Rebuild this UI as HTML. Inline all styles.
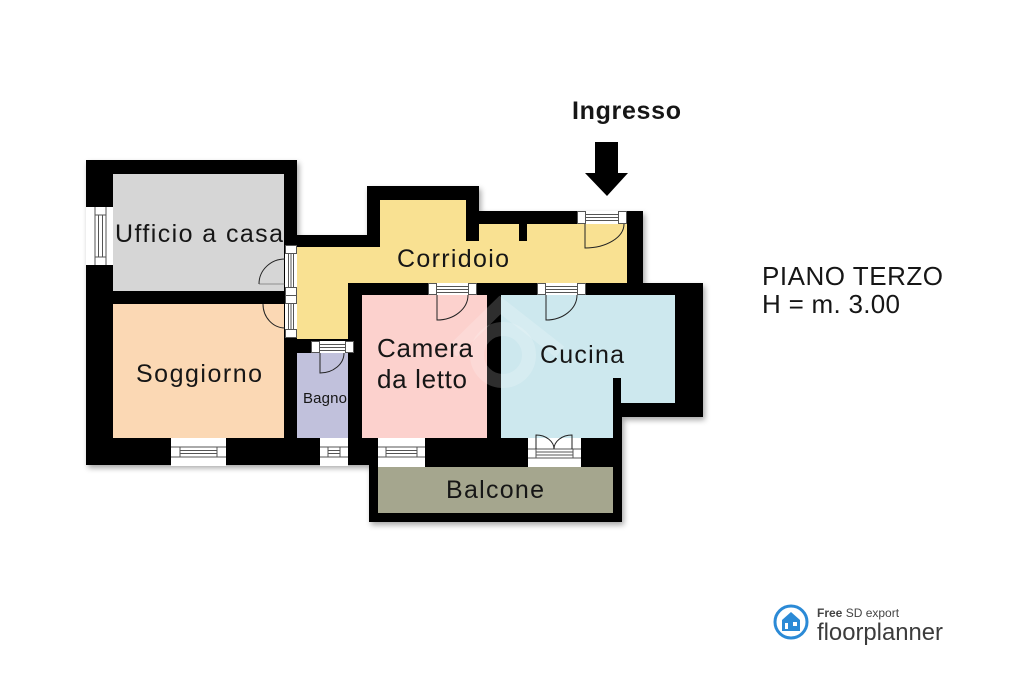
<!DOCTYPE html>
<html><head><meta charset="utf-8">
<style>
html,body{margin:0;padding:0;background:#fff;}
body{width:1024px;height:682px;overflow:hidden;}
svg{display:block;}
text{font-family:"Liberation Sans",Arial,sans-serif;fill:#161616;}
</style></head>
<body>
<svg width="1024" height="682" viewBox="0 0 1024 682" xmlns="http://www.w3.org/2000/svg">
<defs>
<filter id="sh" x="-10%" y="-10%" width="120%" height="120%">
<feGaussianBlur in="SourceAlpha" stdDeviation="3"/>
<feOffset dx="2" dy="3" result="b"/>
<feComponentTransfer><feFuncA type="linear" slope="0.35"/></feComponentTransfer>
<feMerge><feMergeNode/><feMergeNode in="SourceGraphic"/></feMerge>
</filter>
</defs>
<rect width="1024" height="682" fill="#fff"/>

<!-- walls -->
<polygon filter="url(#sh)" fill="#000" points="86,160 297,160 297,235 367,235 367,186 479,186 479,211 643,211 643,283 703,283 703,417 622,417 622,522 369,522 369,465 86,465"/>

<!-- rooms -->
<rect x="113" y="174" width="171" height="117" fill="#d6d6d6"/>
<rect x="113" y="304" width="171" height="134" fill="#fbd8b4"/>
<polygon fill="#f9e192" points="297,247 380,247 380,200 466,200 466,241 479,241 479,224 519,224 519,241 527,241 527,224 627,224 627,283 348,283 348,339 297,339"/>
<rect x="297" y="353" width="51" height="85" fill="#c1c1dc"/>
<rect x="362" y="295" width="125" height="143" fill="#fcd1cd"/>
<polygon fill="#cde8ee" points="501,295 675,295 675,403 621,403 621,378 613,378 613,438 501,438"/>
<rect x="378" y="467" width="235" height="46" fill="#a5a68e"/>

<!-- watermark -->
<g fill="none" stroke="#fff" stroke-opacity="0.18" stroke-width="14">
<polyline points="452,352 500,305 560,352"/>
<circle cx="503" cy="355" r="26"/>
</g>

<g stroke="#555" stroke-width="1" fill="none">
<!-- Ufficio left window -->
<rect x="86" y="207" width="27" height="58" fill="#fff" stroke="none"/>
<line x1="95" y1="207" x2="95" y2="265"/>
<line x1="106" y1="207" x2="106" y2="265"/>
<line x1="95" y1="215" x2="106" y2="215"/>
<line x1="95" y1="257" x2="106" y2="257"/>
<line x1="98.5" y1="215" x2="98.5" y2="257"/>
<line x1="102.5" y1="215" x2="102.5" y2="257"/>

<!-- door column Ufficio/Soggiorno -->
<rect x="285" y="245" width="12" height="93" fill="#fff" stroke="none"/>
<rect x="285.5" y="245.5" width="11" height="8"/>
<rect x="285.5" y="287.5" width="11" height="8"/>
<rect x="285.5" y="295.5" width="11" height="8"/>
<rect x="285.5" y="329.5" width="11" height="8"/>
<line x1="288.5" y1="253" x2="288.5" y2="287"/>
<line x1="291" y1="253" x2="291" y2="287"/>
<line x1="293.5" y1="253" x2="293.5" y2="287"/>
<line x1="288.5" y1="303" x2="288.5" y2="329"/>
<line x1="291" y1="303" x2="291" y2="329"/>
<line x1="293.5" y1="303" x2="293.5" y2="329"/>
<path d="M259 284 A26 25 0 0 1 285 259" stroke="#222"/>
<path d="M285 284 L259 284" stroke="#444" stroke-width="0.6"/>
<path d="M263 304 A22 24 0 0 0 285 328" stroke="#222"/>

<!-- entrance door -->
<rect x="577" y="211" width="50" height="13" fill="#fff" stroke="none"/>
<rect x="577.5" y="211.5" width="8" height="12"/>
<rect x="618.5" y="211.5" width="8" height="12"/>
<line x1="585" y1="214.5" x2="618" y2="214.5"/>
<line x1="585" y1="217.5" x2="618" y2="217.5"/>
<line x1="585" y1="220.5" x2="618" y2="220.5"/>
<path d="M585 224 L585 248 A39 24 0 0 0 624 224" stroke="#222"/>

<!-- camera door -->
<rect x="428" y="283" width="49" height="12" fill="#fff" stroke="none"/>
<rect x="428.5" y="283.5" width="8" height="11"/>
<rect x="468.5" y="283.5" width="8" height="11"/>
<line x1="437" y1="286.5" x2="468" y2="286.5"/>
<line x1="437" y1="289.5" x2="468" y2="289.5"/>
<line x1="437" y1="292.5" x2="468" y2="292.5"/>
<path d="M437 295 L437 320 A31 25 0 0 0 468 295" stroke="#222"/>

<!-- cucina door -->
<rect x="537" y="283" width="49" height="12" fill="#fff" stroke="none"/>
<rect x="537.5" y="283.5" width="8" height="11"/>
<rect x="577.5" y="283.5" width="8" height="11"/>
<line x1="546" y1="286.5" x2="577" y2="286.5"/>
<line x1="546" y1="289.5" x2="577" y2="289.5"/>
<line x1="546" y1="292.5" x2="577" y2="292.5"/>
<path d="M546 295 L546 320 A31 25 0 0 0 577 295" stroke="#222"/>

<!-- bagno door -->
<rect x="311" y="341" width="43" height="12" fill="#fff" stroke="none"/>
<rect x="311.5" y="341.5" width="8" height="11"/>
<rect x="345.5" y="341.5" width="8" height="11"/>
<line x1="320" y1="344.5" x2="345" y2="344.5"/>
<line x1="320" y1="347.5" x2="345" y2="347.5"/>
<line x1="320" y1="350.5" x2="345" y2="350.5"/>
<path d="M320 353 L320 373 A24 20 0 0 0 344 353" stroke="#222"/>

<!-- soggiorno window -->
<rect x="171" y="438" width="55" height="28" fill="#fff" stroke="none"/>
<line x1="171" y1="447" x2="226" y2="447"/>
<line x1="171" y1="457" x2="226" y2="457"/>
<line x1="180" y1="447" x2="180" y2="457"/>
<line x1="217" y1="447" x2="217" y2="457"/>
<line x1="180" y1="450.5" x2="217" y2="450.5"/>
<line x1="180" y1="453.5" x2="217" y2="453.5"/>

<!-- bagno window -->
<rect x="320" y="438" width="28" height="28" fill="#fff" stroke="none"/>
<line x1="320" y1="447" x2="348" y2="447"/>
<line x1="320" y1="457" x2="348" y2="457"/>
<line x1="328" y1="447" x2="328" y2="457"/>
<line x1="340" y1="447" x2="340" y2="457"/>
<line x1="328" y1="450.5" x2="340" y2="450.5"/>
<line x1="328" y1="453.5" x2="340" y2="453.5"/>

<!-- camera window -->
<rect x="378" y="438" width="47" height="29" fill="#fff" stroke="none"/>
<line x1="378" y1="447" x2="425" y2="447"/>
<line x1="378" y1="457" x2="425" y2="457"/>
<line x1="386" y1="447" x2="386" y2="457"/>
<line x1="417" y1="447" x2="417" y2="457"/>
<line x1="386" y1="450.5" x2="417" y2="450.5"/>
<line x1="386" y1="453.5" x2="417" y2="453.5"/>

<!-- cucina french door -->
<rect x="528" y="438" width="53" height="29" fill="#fff" stroke="none"/>
<line x1="528" y1="449" x2="581" y2="449"/>
<line x1="528" y1="458" x2="581" y2="458"/>
<line x1="536" y1="452" x2="573" y2="452"/>
<line x1="536" y1="455" x2="573" y2="455"/>
<line x1="536" y1="449" x2="536" y2="458"/>
<line x1="573" y1="449" x2="573" y2="458"/>
<path d="M536 449 L536 435 A18 14 0 0 1 554 449" stroke="#222"/>
<path d="M572 449 L572 435 A18 14 0 0 0 554 449" stroke="#222"/>
</g>

<!-- labels -->
<text x="115" y="242" font-size="25" textLength="168" lengthAdjust="spacing">Ufficio a casa</text>
<text x="397" y="267" font-size="25" textLength="112" lengthAdjust="spacing">Corridoio</text>
<text x="136" y="382" font-size="25" textLength="126" lengthAdjust="spacing">Soggiorno</text>
<text x="303" y="403" font-size="15" textLength="44" lengthAdjust="spacing">Bagno</text>
<text x="377" y="357" font-size="26" textLength="96" lengthAdjust="spacing">Camera</text>
<text x="377" y="388" font-size="26" textLength="90" lengthAdjust="spacing">da letto</text>
<text x="540" y="363" font-size="25" textLength="84" lengthAdjust="spacing">Cucina</text>
<text x="446" y="498" font-size="25" textLength="98" lengthAdjust="spacing">Balcone</text>
<text x="572" y="119" font-size="25" font-weight="bold" textLength="109" lengthAdjust="spacing">Ingresso</text>
<text x="762" y="285" font-size="26" textLength="181" lengthAdjust="spacing">PIANO TERZO</text>
<text x="762" y="313" font-size="26" textLength="138" lengthAdjust="spacing">H = m. 3.00</text>

<!-- entrance arrow -->
<polygon fill="#000" points="595,142 618,142 618,173 628,173 607,196 585,173 595,173"/>

<!-- logo -->
<circle cx="791" cy="622" r="16" fill="#fff" stroke="#2b8ad6" stroke-width="3"/>
<polygon fill="#2b8ad6" points="782,620 791,612 800,620 800,631 782,631"/>
<rect x="785" y="623" width="3" height="6" fill="#fff"/>
<rect x="793" y="622" width="4" height="4" fill="#fff"/>
<text x="817" y="617" font-size="12" style="fill:#444"><tspan font-weight="bold">Free</tspan> SD export</text>
<text x="817" y="640" font-size="24" textLength="126" lengthAdjust="spacingAndGlyphs" style="fill:#3c3c3c">floorplanner</text>
</svg>
</body></html>
